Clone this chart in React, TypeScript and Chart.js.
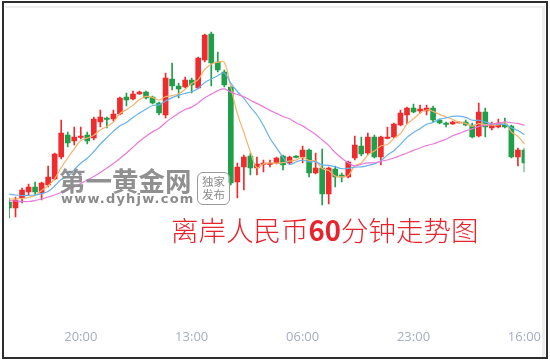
import React, { useEffect, useRef } from 'react';
import { Chart, registerables } from 'chart.js';

Chart.register(...registerables);

// ---- data (USD/CNH 60-minute candles) ----
const startHour = 9;
const categories: string[] = Array.from({ length: 80 }, (_, i) => `${String((startHour + i) % 24).padStart(2, '0')}:00`);
const tickIndices = [11, 28, 45, 62, 79];
const tickLabels = ['20:00', '13:00', '06:00', '23:00', '16:00'];

const opens = [7.2596, 7.2584, 7.2604, 7.2616, 7.2626, 7.2614, 7.2630, 7.2642, 7.2686, 7.2730,
  7.2718, 7.2725, 7.2730, 7.2724, 7.2756, 7.2764, 7.2762, 7.2772, 7.2806, 7.2802,
  7.2812, 7.2816, 7.2806, 7.2794, 7.2770, 7.2842, 7.2828, 7.2826, 7.2840, 7.2824,
  7.2880, 7.2932, 7.2876, 7.2856, 7.2826, 7.2636, 7.2666, 7.2688, 7.2664, 7.2671,
  7.2671, 7.2674, 7.2688, 7.2674, 7.2688, 7.2686, 7.2700, 7.2654, 7.2664, 7.2612,
  7.2662, 7.2650, 7.2646, 7.2684, 7.2708, 7.2694, 7.2726, 7.2686, 7.2723, 7.2726,
  7.2750, 7.2770, 7.2784, 7.2778, 7.2778, 7.2784, 7.2760, 7.2754, 7.2752, 7.2754,
  7.2756, 7.2750, 7.2728, 7.2776, 7.2744, 7.2746, 7.2752, 7.2748, 7.2686, 7.2700];

const highs = [7.2604, 7.2606, 7.2624, 7.2632, 7.2636, 7.2636, 7.2668, 7.2694, 7.2760, 7.2736,
  7.2746, 7.2746, 7.2736, 7.2766, 7.2780, 7.2766, 7.2780, 7.2806, 7.2814, 7.2818,
  7.2818, 7.2818, 7.2808, 7.2796, 7.2854, 7.2874, 7.2834, 7.2846, 7.2844, 7.2886,
  7.2932, 7.2936, 7.2896, 7.2860, 7.2828, 7.2674, 7.2690, 7.2694, 7.2686, 7.2680,
  7.2680, 7.2686, 7.2690, 7.2688, 7.2689, 7.2708, 7.2702, 7.2694, 7.2702, 7.2666,
  7.2668, 7.2654, 7.2678, 7.2728, 7.2726, 7.2734, 7.2730, 7.2728, 7.2746, 7.2754,
  7.2780, 7.2786, 7.2792, 7.2790, 7.2790, 7.2788, 7.2762, 7.2756, 7.2758, 7.2756,
  7.2760, 7.2754, 7.2794, 7.2784, 7.2756, 7.2762, 7.2764, 7.2750, 7.2704, 7.2704];

const lows = [7.2564, 7.2566, 7.2594, 7.2610, 7.2610, 7.2600, 7.2626, 7.2640, 7.2682, 7.2706,
  7.2710, 7.2722, 7.2712, 7.2720, 7.2746, 7.2744, 7.2758, 7.2770, 7.2788, 7.2800,
  7.2811, 7.2802, 7.2792, 7.2770, 7.2764, 7.2820, 7.2804, 7.2824, 7.2814, 7.2822,
  7.2876, 7.2828, 7.2856, 7.2826, 7.2630, 7.2604, 7.2620, 7.2650, 7.2650, 7.2656,
  7.2666, 7.2672, 7.2660, 7.2672, 7.2684, 7.2674, 7.2646, 7.2652, 7.2590, 7.2592,
  7.2626, 7.2636, 7.2644, 7.2680, 7.2688, 7.2690, 7.2684, 7.2670, 7.2722, 7.2724,
  7.2748, 7.2752, 7.2774, 7.2774, 7.2770, 7.2756, 7.2752, 7.2746, 7.2751, 7.2754,
  7.2748, 7.2724, 7.2726, 7.2726, 7.2740, 7.2744, 7.2744, 7.2684, 7.2668, 7.2656];

const closes = [7.2584, 7.2600, 7.2620, 7.2626, 7.2616, 7.2634, 7.2646, 7.2692, 7.2734, 7.2714,
  7.2726, 7.2728, 7.2718, 7.2762, 7.2766, 7.2761, 7.2772, 7.2804, 7.2800, 7.2812,
  7.2816, 7.2804, 7.2794, 7.2774, 7.2844, 7.2828, 7.2822, 7.2840, 7.2830, 7.2884,
  7.2930, 7.2874, 7.2860, 7.2830, 7.2634, 7.2666, 7.2686, 7.2664, 7.2672, 7.2674,
  7.2674, 7.2684, 7.2670, 7.2686, 7.2685, 7.2700, 7.2654, 7.2664, 7.2612, 7.2664,
  7.2646, 7.2646, 7.2676, 7.2710, 7.2692, 7.2726, 7.2686, 7.2726, 7.2726, 7.2752,
  7.2774, 7.2784, 7.2776, 7.2782, 7.2784, 7.2760, 7.2754, 7.2751, 7.2756, 7.2756,
  7.2750, 7.2726, 7.2776, 7.2746, 7.2750, 7.2754, 7.2746, 7.2686, 7.2700, 7.2674];

// moving-average values before enough visible candles exist
const ma5Head = [7.2602, 7.2602, 7.2603, 7.2605];
const ma10Head = [7.2612, 7.2610, 7.2609, 7.2609, 7.2610, 7.2613, 7.2617, 7.2628, 7.2641];
const ma20Head = [7.2599, 7.2598, 7.2597, 7.2597, 7.2599, 7.2602, 7.2606, 7.2610, 7.2615, 7.2621,
  7.2626, 7.2633, 7.2640, 7.2647, 7.2655, 7.2664, 7.2673, 7.2683, 7.2694];

function movingAverage(values: number[], period: number, head: number[]): number[] {
  return values.map((_, i) => {
    if (i < period - 1) return head[i];
    let s = 0;
    for (let k = i - period + 1; k <= i; k++) s += values[k];
    return s / period;
  });
}

const UP = '#ef2b2d';
const DOWN = '#1f9f49';

export default function App() {
  const ref = useRef<HTMLCanvasElement | null>(null);

  useEffect(() => {
    if (!ref.current) return;
    const colors = closes.map((c, i) => (c >= opens[i] ? UP : DOWN));
    const chart = new Chart(ref.current, {
      type: 'bar',
      data: {
        labels: categories,
        datasets: [
          {
            type: 'line',
            data: movingAverage(closes, 20, ma20Head),
            borderColor: '#e97ad9',
            borderWidth: 1.2,
            pointRadius: 0,
            tension: 0.35,
            order: 0,
          } as any,
          {
            type: 'line',
            data: movingAverage(closes, 10, ma10Head),
            borderColor: '#66b2ea',
            borderWidth: 1.2,
            pointRadius: 0,
            tension: 0.35,
            order: 0,
          } as any,
          {
            type: 'line',
            data: movingAverage(closes, 5, ma5Head),
            borderColor: '#f6b26b',
            borderWidth: 1.2,
            pointRadius: 0,
            tension: 0.35,
            order: 0,
          } as any,
          {
            type: 'bar',
            data: lows.map((l, i) => [l, highs[i]]),
            backgroundColor: colors,
            barThickness: 1,
            grouped: false,
            order: 2,
          } as any,
          {
            type: 'bar',
            data: opens.map((o, i) => [o, closes[i]]),
            backgroundColor: colors,
            barThickness: 5,
            minBarLength: 1,
            grouped: false,
            order: 1,
          } as any,
        ],
      },
      options: {
        animation: false,
        responsive: false,
        maintainAspectRatio: false,
        events: [],
        layout: { padding: { left: 3.8, right: 20.7, top: 0, bottom: 0 } },
        plugins: { legend: { display: false }, tooltip: { enabled: false } },
        scales: {
          x: {
            type: 'category',
            offset: false,
            grid: { display: false, drawTicks: false },
            border: { display: false },
            ticks: {
              autoSkip: false,
              maxRotation: 0,
              minRotation: 0,
              padding: 9,
              color: '#a4aec3',
              font: { family: '"Open Sans", "Noto Sans", sans-serif', size: 13 },
              callback: (_v: any, i: number) => {
                const k = tickIndices.indexOf(i);
                return k >= 0 ? tickLabels[k] : '';
              },
            },
            afterFit: (s: any) => {
              s.height = 41;
            },
          },
          y: { display: false, min: 7.236, max: 7.3 },
        },
      } as any,
    });
    return () => chart.destroy();
  }, []);

  return (
    <div style={{ position: 'fixed', left: 0, top: 0, width: 550, height: 361, background: '#fff', overflow: 'hidden' }}>
      <canvas ref={ref} width={550} height={361} style={{ position: 'absolute', left: 0, top: 0, width: 550, height: 361 }} />
      {/* watermark */}
      <div style={{ position: 'absolute', left: 59, top: 163, fontFamily: '"Noto Sans CJK SC", sans-serif', fontWeight: 700, fontSize: 26.5, lineHeight: '34px', color: '#8b8b8b', letterSpacing: 0, whiteSpace: 'nowrap', opacity: 0.95 }}>第一黄金网</div>
      <div style={{ position: 'absolute', left: 61, top: 191, fontFamily: '"DejaVu Sans", sans-serif', fontWeight: 700, fontSize: 13, lineHeight: '16px', color: '#8b8b8b', letterSpacing: 1.2, whiteSpace: 'nowrap' }}>www.dyhjw.com</div>
      <div style={{ position: 'absolute', left: 197, top: 172, width: 33, height: 33, boxSizing: 'border-box', border: '1.5px solid #9a9a9a', borderRadius: 6, fontFamily: '"Noto Sans CJK SC", sans-serif', fontSize: 11.5, lineHeight: '13px', color: '#8b8b8b', textAlign: 'center', paddingTop: 1.5, background: 'rgba(255,255,255,0.6)' }}>独家<br />发布</div>
      {/* title */}
      <div style={{ position: 'absolute', left: 171, top: 215.5, fontFamily: '"Noto Sans CJK SC", sans-serif', fontWeight: 300, fontSize: 27.5, lineHeight: '27.5px', color: '#e8232d', whiteSpace: 'nowrap' }}>
        离岸人民币<span style={{ fontWeight: 700 }}>60</span>分钟走势图
      </div>
      {/* frame */}
      <div style={{ position: 'absolute', left: 5, top: 6, width: 540, height: 2, background: '#ededed' }} />
      <div style={{ position: 'absolute', left: 542, top: 6, width: 3, height: 351, background: '#ededed' }} />
      <div style={{ position: 'absolute', left: 2, top: 1, width: 546, height: 358, boxSizing: 'border-box', border: '2px solid #2e2e2e' }} />
    </div>
  );
}
